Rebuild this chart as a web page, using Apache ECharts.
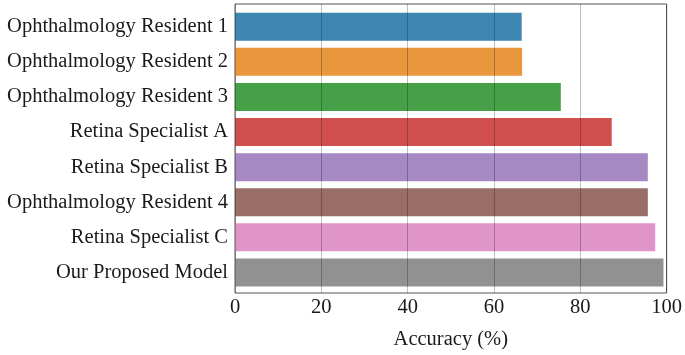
<!DOCTYPE html>
<html>
<head>
<meta charset="utf-8">
<script src="https://cdn.jsdelivr.net/npm/echarts@6/dist/echarts.min.js"></script>
<style>
  html, body { margin: 0; padding: 0; background: #fff; }
  #chart { width: 685px; height: 355px; }
</style>
</head>
<body>
<div id="chart"></div>
<script>
// categories top to bottom
const categories = [
    "Ophthalmology Resident 1",
    "Ophthalmology Resident 2",
    "Ophthalmology Resident 3",
    "Retina Specialist A",
    "Retina Specialist B",
    "Ophthalmology Resident 4",
    "Retina Specialist C",
    "Our Proposed Model"
];
const accuracy = [65.9, 66.0, 74.9, 86.6, 94.9, 94.9, 96.6, 98.5];
const barColors = ["#3f87b3", "#e8973c", "#46a048", "#cf4f4f", "#a689c2", "#986e66", "#e095c8", "#919191"];
const xTicks = [0, 20, 40, 60, 80, 100];

const font = "Liberation Serif";
const chart = echarts.init(document.getElementById("chart"));

const option = {
    animation: false,
    grid: [
        // frame + x axis
        { left: 235, top: 4, width: 435, height: 290, show: true, borderColor: "#555", borderWidth: 1, backgroundColor: "transparent" },
        // bars (inner margins like matplotlib)
        { left: 235, top: 9.2, width: 435, height: 280.8 }
    ],
    xAxis: [
        {
            gridIndex: 0,
            type: "value",
            min: xTicks[0],
            max: xTicks[xTicks.length - 1],
            interval: 20,
            z: 5,
            name: "Accuracy (%)",
            nameLocation: "middle",
            nameGap: 36,
            nameTextStyle: { fontFamily: font, fontSize: 20.5, color: "#1a1a1a" },
            axisLine: { show: false },
            axisTick: { show: false },
            axisLabel: { fontFamily: font, fontSize: 20.5, color: "#1a1a1a", margin: 4 },
            splitLine: { show: true, lineStyle: { color: "rgba(0,0,0,0.25)", width: 1 } }
        },
        {
            gridIndex: 1,
            type: "value",
            min: 0,
            max: 100,
            show: false
        }
    ],
    yAxis: [
        { gridIndex: 0, type: "value", show: false },
        {
            gridIndex: 1,
            type: "category",
            inverse: true,
            data: categories,
            axisLine: { show: false },
            axisTick: { show: false },
            axisLabel: { fontFamily: font, fontSize: 20.5, color: "#1a1a1a", margin: 7 }
        }
    ],
    series: [
        {
            type: "bar",
            xAxisIndex: 1,
            yAxisIndex: 1,
            barWidth: 28,
            data: accuracy.map((v, i) => ({
                value: v,
                itemStyle: { color: barColors[i] }
            }))
        }
    ]
};

chart.setOption(option);
</script>
</body>
</html>
